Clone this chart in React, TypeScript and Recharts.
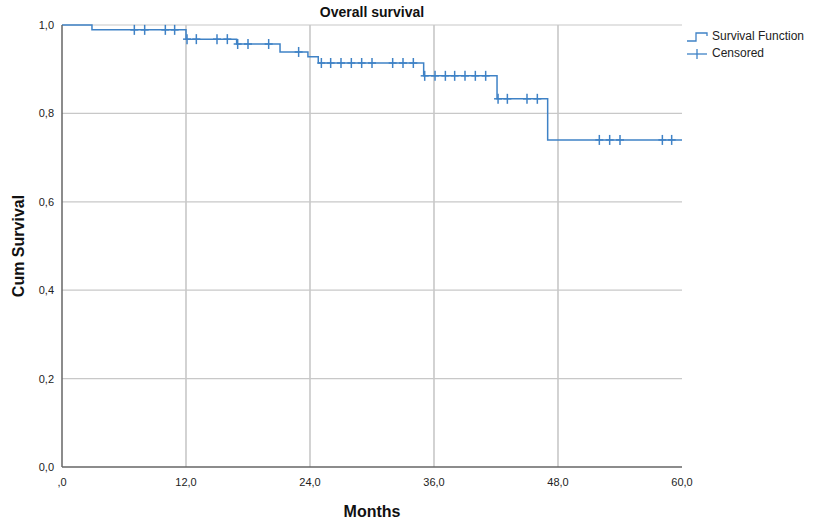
import React from "react";
import {
  ComposedChart,
  Line,
  Scatter,
  XAxis,
  YAxis,
  ReferenceLine,
} from "recharts";

// Kaplan-Meier steps (months, cumulative survival)
const stepMonths = [0, 2.9, 12.0, 16.9, 21.1, 23.8, 24.8, 35.0, 42.1, 47.0, 60];
const stepSurvival = [1.0, 0.989, 0.968, 0.957, 0.939, 0.928, 0.914, 0.885, 0.833, 0.74, 0.74];

// censored observations
const censorMonths = [
  7.0, 8.0, 10.0, 10.9,
  12.1, 13.0, 15.0, 16.0,
  17.0, 18.0, 20.0,
  22.9,
  25.1, 26.0, 27.0, 28.0, 29.0, 30.0, 32.0, 33.0, 34.0,
  35.1, 36.1, 37.1, 38.0, 39.0, 40.0, 41.0,
  42.2, 43.1, 45.0, 46.0,
  52.0, 53.0, 54.0, 58.1, 59.0,
];
const censorSurvival = [
  0.989, 0.989, 0.989, 0.989,
  0.968, 0.968, 0.968, 0.968,
  0.957, 0.957, 0.957,
  0.939,
  0.914, 0.914, 0.914, 0.914, 0.914, 0.914, 0.914, 0.914, 0.914,
  0.885, 0.885, 0.885, 0.885, 0.885, 0.885, 0.885,
  0.833, 0.833, 0.833, 0.833,
  0.74, 0.74, 0.74, 0.74, 0.74,
];

const xTicks = [0, 12, 24, 36, 48, 60];
const yTicks = [0, 0.2, 0.4, 0.6, 0.8, 1.0];
const xGrid = [12, 24, 36, 48];
const yGrid = [0.2, 0.4, 0.6, 0.8, 1.0];

const BLUE = "#3f82c6";
const FONT = "'Liberation Sans', Arial, sans-serif";

const steps = stepMonths.map((t, i) => ({ t, s: stepSurvival[i] }));
const censored = censorMonths.map((t, i) => ({ t, s: censorSurvival[i] }));

const fmtX = (v: number) => (v === 0 ? ",0" : v.toFixed(1).replace(".", ","));
const fmtY = (v: number) => v.toFixed(1).replace(".", ",");

const CensorMark = (props: any) => {
  const { cx, cy } = props;
  if (cx == null || cy == null) return null;
  return (
    <g>
      <line x1={cx} y1={cy - 5} x2={cx} y2={cy + 5} stroke={BLUE} strokeWidth={1.5} />
      <line x1={cx - 4} y1={cy} x2={cx + 4} y2={cy} stroke={BLUE} strokeWidth={1.5} />
    </g>
  );
};

const LegendBox = () => (
  <div
    style={{
      position: "absolute",
      left: 686,
      top: 28,
      fontFamily: FONT,
      fontSize: 12,
      color: "#222",
      lineHeight: "17px",
    }}
  >
    <div style={{ display: "flex", alignItems: "center" }}>
      <svg width={22} height={12} style={{ marginRight: 4 }}>
        <polyline points="1,10 10,10 10,2 21,2 21,5" fill="none" stroke={BLUE} strokeWidth={1.3} />
      </svg>
      Survival Function
    </div>
    <div style={{ display: "flex", alignItems: "center" }}>
      <svg width={22} height={12} style={{ marginRight: 4 }}>
        <line x1={1} y1={6} x2={21} y2={6} stroke={BLUE} strokeWidth={1.3} />
        <line x1={11} y1={1} x2={11} y2={11} stroke={BLUE} strokeWidth={1.3} />
      </svg>
      Censored
    </div>
  </div>
);

export default function App() {
  return (
    <div style={{ position: "absolute", left: 0, top: 0, width: 824, height: 523, background: "#fff" }}>
      <ComposedChart
        width={824}
        height={523}
        margin={{ top: 25, right: 142, bottom: 6, left: 10 }}
        style={{ fontFamily: FONT }}
      >
        <XAxis
          type="number"
          dataKey="t"
          domain={[0, 60]}
          ticks={xTicks}
          tickFormatter={fmtX}
          tickLine={false}
          axisLine={{ stroke: "#666", strokeWidth: 1.5 }}
          tick={{ fill: "#222", fontSize: 11, dy: 3 }}
          height={50}
          label={{
            value: "Months",
            position: "insideBottom",
            offset: 0,
            style: { fontSize: 16, fontWeight: "bold", fill: "#111" },
          }}
        />
        <YAxis
          type="number"
          dataKey="s"
          domain={[0, 1]}
          ticks={yTicks}
          tickFormatter={fmtY}
          tickLine={false}
          axisLine={{ stroke: "#666", strokeWidth: 1.5 }}
          tick={{ fill: "#222", fontSize: 11 }}
          width={52}
          label={{
            value: "Cum Survival",
            angle: -90,
            position: "insideLeft",
            offset: 8,
            style: { fontSize: 16, fontWeight: "bold", fill: "#111", textAnchor: "middle" },
          }}
        />
        {xGrid.map((v) => (
          <ReferenceLine key={"x" + v} x={v} stroke="#b5b5b5" strokeWidth={1.2} />
        ))}
        {yGrid.map((v) => (
          <ReferenceLine key={"y" + v} y={v} stroke="#c8c8c8" strokeWidth={1.2} />
        ))}
        <Line
          data={steps}
          dataKey="s"
          type="stepAfter"
          stroke={BLUE}
          strokeWidth={1.5}
          dot={false}
          activeDot={false}
          isAnimationActive={false}
        />
        <Scatter
          data={censored}
          dataKey="s"
          shape={<CensorMark />}
          isAnimationActive={false}
        />
      </ComposedChart>
      <div
        style={{
          position: "absolute",
          left: 62,
          width: 620,
          top: 4,
          textAlign: "center",
          fontFamily: FONT,
          fontWeight: "bold",
          fontSize: 14,
          color: "#111",
        }}
      >
        Overall survival
      </div>
      <LegendBox />
    </div>
  );
}
